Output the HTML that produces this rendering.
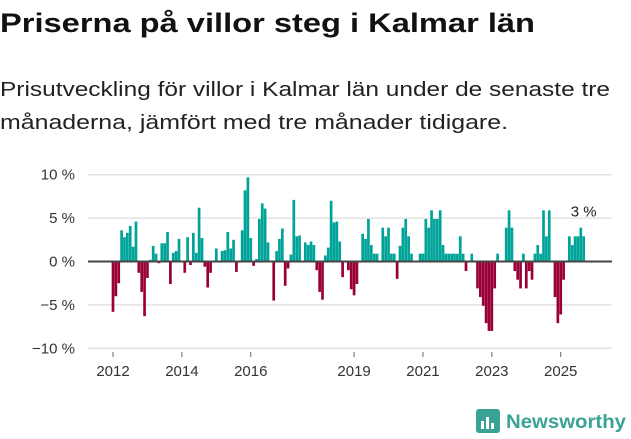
<!DOCTYPE html>
<html><head><meta charset="utf-8">
<style>
html,body{margin:0;padding:0;background:#fff;}
svg{display:block;font-family:"Liberation Sans",sans-serif;}
</style></head>
<body>
<svg id="chart" width="631" height="439" viewBox="0 0 631 439" xmlns="http://www.w3.org/2000/svg">
<text x="0" y="32" font-size="27" font-weight="bold" fill="#111" textLength="535" lengthAdjust="spacingAndGlyphs">Priserna på villor steg i Kalmar län</text>
<text x="0" y="96" font-size="20" fill="#222" textLength="610" lengthAdjust="spacingAndGlyphs">Prisutveckling för villor i Kalmar län under de senaste tre</text>
<text x="0" y="129" font-size="20" fill="#222" textLength="508" lengthAdjust="spacingAndGlyphs">månaderna, jämfört med tre månader tidigare.</text>
<g id="grid"></g>
<g id="bars"></g>
<g id="axes"></g>
<g>
<rect x="476" y="409" width="24" height="24" rx="3" fill="#3aa396"/>
<rect x="481" y="421" width="3" height="8" fill="#fff"/>
<rect x="486" y="417" width="3" height="12" fill="#fff"/>
<rect x="491" y="423" width="3" height="6" fill="#fff"/>
<text x="506" y="428" font-size="19" font-weight="bold" fill="#3aa396" textLength="120" lengthAdjust="spacingAndGlyphs">Newsworthy</text>
</g>
</svg>
<script>
const startYear = 2012;
const values = [
-5.8,-4.0,-2.5,3.6,2.8,3.3,4.1,1.7,4.6,-1.3,-3.5,-6.3,-1.9,0.2,1.8,0.9,-0.2,2.1,2.1,3.4,-2.6,1.0,1.2,2.6,0,-1.3,2.8,-0.4,3.3,1.0,6.2,2.7,-0.6,-3.0,-1.3,0,1.5,0,1.2,1.3,3.4,
1.5,2.5,-1.2,0,3.6,8.2,9.7,2.7,-0.5,0.3,4.9,6.7,6.1,2.2,0.1,-4.5,1.2,2.6,3.8,-2.8,-0.8,0.8,7.1,2.9,3.0,0,2.2,1.9,2.3,1.9,-1.0,-3.5,-4.4,0.7,1.6,7.0,4.5,4.6,2.3,-1.8,0,-1.0,
-3.2,-3.9,-2.6,0.1,3.2,2.6,4.9,1.9,0.9,0.9,0,3.9,2.9,3.9,0.9,0.9,-2.0,1.8,3.9,4.9,2.9,0.9,0,0,0.9,0.9,4.9,3.9,5.9,4.9,4.9,5.9,1.9,0.9,0.9,0.9,0.9,0.9,2.9,0.9,-1.1,0,
0.9,0,-3.1,-4.1,-5.1,-7.1,-8.0,-8.0,-3.1,0.9,0,0,3.9,5.9,3.9,-1.1,-2.1,-3.1,0.9,-3.1,-1.1,-2.1,0.9,1.9,0.9,5.9,2.9,5.9,0,-4.1,-7.1,-6.1,-2.1,0,2.9,1.9,2.9,2.9,3.9,2.9
];
const yTicks = [10,5,0,-5,-10];
const yTickLabels = ["10 %","5 %","0 %","−5 %","−10 %"];
const xTickYears = [2012,2014,2016,2019,2021,2023,2025];
const lastLabel = "3 %";

const NS="http://www.w3.org/2000/svg";
const X0=113, STEP=2.87, Y0=261.5, YS=8.68;
const x = i => X0 + i*STEP;
const y = v => Y0 - v*YS;
function mk(tag, attrs, parent){const e=document.createElementNS(NS,tag);for(const k in attrs)e.setAttribute(k,attrs[k]);parent.appendChild(e);return e;}
const grid=document.getElementById('grid'), bars=document.getElementById('bars'), axes=document.getElementById('axes');
yTicks.forEach((t,k)=>{
  if(t!==0){const l=mk('line',{x1:88,x2:612,y1:y(t),y2:y(t),stroke:'#e3e3e3','stroke-width':1.5},grid);
  
  }
  const tx=mk('text',{x:75,y:y(t)+5,'text-anchor':'end','font-size':15,fill:'#333'},axes);
  tx.textContent=yTickLabels[k];
  
  
});
values.forEach((v,i)=>{
  const r=mk('rect',{x:x(i)-1.35,width:2.7,y:Math.min(y(v),Y0),height:Math.abs(v*YS),fill:v>=0?'#00a398':'#990038'},bars);
  
  
});
const zl=mk('line',{x1:88,x2:612,y1:Y0,y2:Y0,stroke:'#444','stroke-width':2},axes);


xTickYears.forEach(yr=>{
  const xi=x((yr-startYear)*12);
  const tk=mk('line',{x1:xi,x2:xi,y1:352,y2:357,stroke:'#666','stroke-width':1},axes);
  
  
  const tx=mk('text',{x:xi,y:376,'text-anchor':'middle','font-size':15,fill:'#333'},axes);
  tx.textContent=yr;
  
  
});
const li=values.length-1;
const lab=mk('text',{x:x(li),y:y(values[li])-20,'text-anchor':'middle','font-size':15,fill:'#222'},axes);
lab.textContent=lastLabel;


</script>
</body></html>
